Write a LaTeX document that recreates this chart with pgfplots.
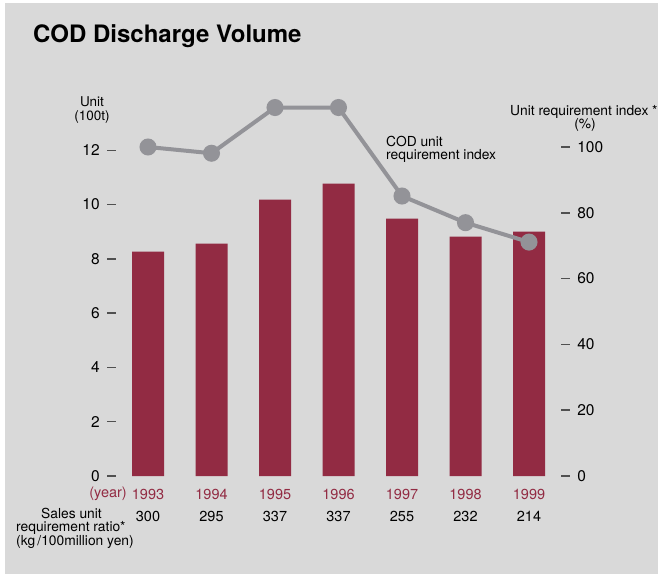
\documentclass[border=0pt]{standalone}
\usepackage{pgfplots}
\pgfplotsset{compat=1.18}
\usepackage{fontspec}
\setmainfont{TeX Gyre Heros}
\definecolor{bg}{HTML}{D9D9D9}
\definecolor{barred}{HTML}{922B43}
\definecolor{linegray}{HTML}{939398}
\definecolor{tickgray}{HTML}{505050}
\newcommand{\fs}[1]{\fontsize{#1}{#1}\selectfont}
\begin{document}
\begin{tikzpicture}
\path[use as bounding box] (0pt,0pt) rectangle (658pt,574pt);
\fill[white] (0pt,0pt) rectangle (658pt,574pt);
\fill[bg] (5pt,0pt) rectangle (658pt,571pt);
\begin{axis}[
  at={(116.25pt,98pt)}, anchor=south west,
  scale only axis, width=444.5pt, height=380pt,
  xmin=-0.5, xmax=6.5, ymin=0, ymax=14,
  axis x line*=bottom, axis y line*=left,
  axis line style={draw=none},
  clip=false,
  /pgf/number format/assume math mode=true,
  xtick={0,1,2,3,4,5,6},
  xticklabels={1993,1994,1995,1996,1997,1998,1999},
  x tick style={draw=none},
  xticklabel style={font=\fs{14.5}, text=barred, anchor=base, yshift=-14.5pt},
  ytick={0,2,4,6,8,10,12},
  y tick style={draw=tickgray, line width=1.5pt},
  major tick length=9pt, tick align=outside,
  yticklabel style={font=\fs{15.5}, text=black, xshift=-4pt},
]
\addplot[ybar, bar width=32pt, fill=barred, draw=none] coordinates {
(0,8.27) (1,8.56) (2,10.18) (3,10.77) (4,9.48) (5,8.82) (6,9.0)};
\end{axis}
\begin{axis}[
  at={(116.25pt,98pt)}, anchor=south west,
  scale only axis, width=444.5pt, height=380pt,
  xmin=-0.5, xmax=6.5, ymin=0, ymax=115.5,
  axis x line*=bottom, axis y line*=right,
  axis line style={draw=none},
  clip=false,
  /pgf/number format/assume math mode=true,
  xtick={0,1,2,3,4,5,6},
  xticklabels={300,295,337,337,255,232,214},
  x tick style={draw=none},
  xticklabel style={font=\fs{14.5}, text=black, anchor=base, yshift=-36pt},
  ytick={0,20,40,60,80,100},
  y tick style={draw=tickgray, line width=1.5pt},
  major tick length=9pt, tick align=outside,
  yticklabel style={font=\fs{15.5}, text=black, xshift=4pt},
]
\addplot[linegray, line width=4pt, mark=*, mark size=6.5pt,
  mark options={solid, fill=linegray, draw=none}] coordinates {
(0,100) (1,98.1) (2,112) (3,112) (4,85.1) (5,77) (6,71.1)};
\end{axis}
\node[anchor=base west, inner sep=0, font=\bfseries\fs{24}] at (33pt,531.3pt) {COD Discharge Volume};
\node[anchor=base, inner sep=0, font=\fs{13.5}] at (92pt,467pt) {Unit};
\node[anchor=base, inner sep=0, font=\fs{13.5}] at (92pt,453pt) {(100t)};
\node[anchor=base west, inner sep=0, font=\fs{13.8}] at (510pt,458pt) {Unit requirement index *};
\node[anchor=base, inner sep=0, font=\fs{13.8}] at (585pt,445pt) {(\%)};
\node[anchor=base west, inner sep=0, font=\fs{13.8}] at (386pt,427.3pt) {COD unit};
\node[anchor=base west, inner sep=0, font=\fs{13.8}] at (386pt,414.5pt) {requirement index};
\node[anchor=base east, inner sep=0, font=\fs{14.5}, text=barred] at (127pt,76.5pt) {(year)};
\node[anchor=base west, inner sep=0, font=\fs{13.8}] at (41pt,55.7pt) {Sales unit};
\node[anchor=base west, inner sep=0, font=\fs{13.8}] at (16pt,42.3pt) {requirement ratio*};
\node[anchor=base west, inner sep=0, font=\fs{13.8}] at (16pt,29pt) {(kg\,/100million yen)};
\end{tikzpicture}
\end{document}
